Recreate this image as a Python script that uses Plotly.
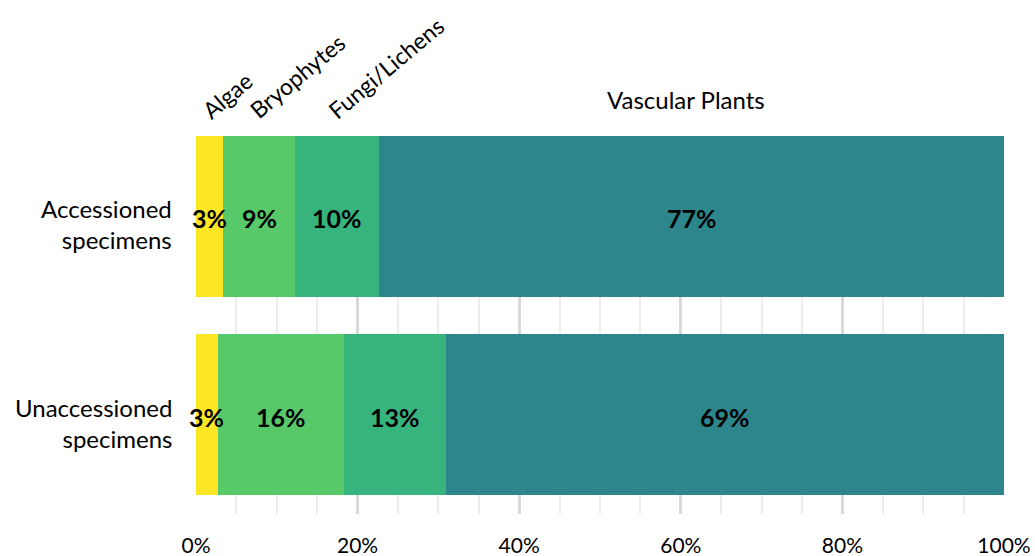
import plotly.graph_objects as go

categories = ["Accessioned<br>specimens", "Unaccessioned<br>specimens"]
groups = ["Algae", "Bryophytes", "Fungi/Lichens", "Vascular Plants"]
algae = [3.4, 2.7]
bryophytes = [8.9, 15.6]
fungi = [10.4, 12.6]
vascular = [77.3, 69.1]
tick_vals = [0, 20, 40, 60, 80, 100]
tick_text = ["0%", "20%", "40%", "60%", "80%", "100%"]

series = [algae, bryophytes, fungi, vascular]
colors = ["#FDE725", "#57C968", "#37B37E", "#2C868B"]

FONT = "Lato"
fig = go.Figure()
for name, vals, col in zip(groups, series, colors):
    fig.add_trace(go.Bar(
        y=categories, x=vals, name=name, orientation="h",
        marker=dict(color=col, line=dict(width=0)), hoverinfo="x+name",
    ))

# value labels at segment centres, drawn above all bars
for i, cat in enumerate(categories):
    cum = 0.0
    for vals in series:
        fig.add_annotation(x=cum + vals[i] / 2, y=cat, xref="x", yref="y",
                           text=f"<b>{vals[i]:.0f}%</b>", showarrow=False,
                           xanchor="center", yanchor="middle", yshift=-2,
                           font=dict(family=FONT, size=25, color="black"))
        cum += vals[i]

# y category labels
for cat in categories:
    fig.add_annotation(x=0, y=cat, xref="paper", yref="y", text=cat, showarrow=False,
                       xanchor="right", yanchor="middle", align="right", xshift=-22, yshift=-8,
                       font=dict(family=FONT, size=24, color="black"))

# Segment name labels above the top bar
starts = [0, algae[0], algae[0] + bryophytes[0]]
xshifts = [-2, 18, 24]
for name, s, dx in zip(groups[:3], starts, xshifts):
    fig.add_annotation(x=s, y=1, xref="x", yref="paper", text=name, showarrow=False,
                       textangle=-40, xanchor="left", yanchor="bottom", xshift=dx, yshift=9,
                       font=dict(family=FONT, size=23, color="black"))
vstart = algae[0] + bryophytes[0] + fungi[0]
fig.add_annotation(x=vstart + vascular[0] / 2, y=1, xref="x", yref="paper", text=groups[3],
                   showarrow=False, xanchor="center", yanchor="bottom", xshift=-6, yshift=20,
                   font=dict(family=FONT, size=24, color="black"))

fig.update_layout(
    barmode="stack", bargap=0.19, showlegend=False,
    width=1035, height=556,
    margin=dict(l=196, r=31, t=136, b=42),
    plot_bgcolor="white", paper_bgcolor="white",
    xaxis=dict(range=[0, 100], tickvals=tick_vals, ticktext=tick_text, automargin=False,
               showgrid=True, gridcolor="#D9D9D9", gridwidth=3, zeroline=False,
               showline=False, ticks="", ticklabelstandoff=17,
               tickfont=dict(family=FONT, size=21, color="black"),
               minor=dict(dtick=5, showgrid=True, gridcolor="#EDEDED", gridwidth=2)),
    yaxis=dict(range=[1.5, -0.405], showgrid=False, zeroline=False, showline=False,
               ticks="", showticklabels=False, automargin=False),
)

fig.write_html("out.html")
